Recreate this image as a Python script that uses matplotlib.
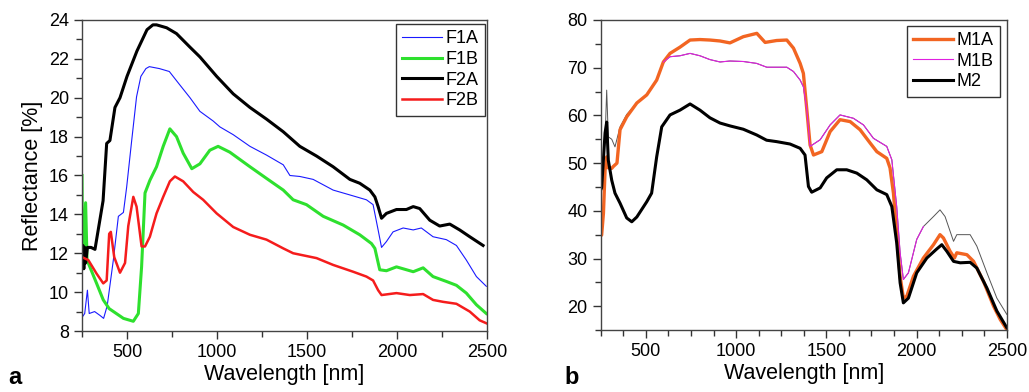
import numpy as np
import matplotlib
matplotlib.use('Agg')
import matplotlib.pyplot as plt
from matplotlib.ticker import MultipleLocator

plt.rcParams['font.family'] = ['Liberation Sans', 'DejaVu Sans']

# panel a : reflectance spectra [nm, %]
f1a_wl = [250, 265, 280, 290, 320, 350, 370, 390, 424, 452, 480, 498, 526, 553, 577, 605, 624, 680, 735, 790,
          850, 905, 979, 1016, 1090, 1183, 1275, 1368, 1405, 1460, 1534, 1645, 1738, 1830, 1867, 1895, 1914, 1941,
          1978, 2034, 2090, 2135, 2200, 2274, 2330, 2385, 2441, 2496]
f1a_r = [8.7, 8.9, 10.1, 8.9, 9.0, 8.8, 8.65, 9.3, 11.65, 13.9, 14.1, 15.4, 17.8, 20.05, 21.1, 21.5, 21.6, 21.5,
         21.35, 20.7, 20.0, 19.3, 18.8, 18.5, 18.1, 17.5, 17.05, 16.55, 16.0, 15.95, 15.8, 15.25, 15.0, 14.75, 14.5,
         13.2, 12.3, 12.6, 13.1, 13.3, 13.2, 13.3, 12.85, 12.7, 12.4, 11.65, 10.8, 10.3]

f1b_wl = [250, 252, 258, 270, 278, 331, 368, 401, 480, 535, 563, 581, 600, 627, 664, 701, 738, 775, 812, 860,
          905, 960, 1006, 1071, 1183, 1275, 1368, 1423, 1497, 1590, 1701, 1793, 1858, 1877, 1904, 1941, 1997,
          2090, 2145, 2200, 2274, 2330, 2385, 2441, 2496]
f1b_r = [16.0, 13.0, 12.0, 14.6, 11.65, 10.45, 9.6, 9.15, 8.65, 8.5, 8.9, 11.3, 15.1, 15.75, 16.45, 17.5, 18.4,
         18.0, 17.15, 16.35, 16.6, 17.3, 17.5, 17.2, 16.45, 15.85, 15.25, 14.75, 14.5, 13.9, 13.45, 12.95, 12.5,
         12.25, 11.15, 11.1, 11.3, 11.05, 11.25, 10.8, 10.55, 10.35, 9.95, 9.35, 8.9]

f2a_wl = [250, 255, 260, 265, 270, 280, 300, 322, 367, 387, 405, 433, 461, 500, 555, 611, 644, 664, 720, 775,
          850, 905, 998, 1090, 1183, 1275, 1368, 1460, 1553, 1645, 1738, 1793, 1849, 1877, 1895, 1914, 1941,
          1997, 2052, 2090, 2126, 2182, 2237, 2293, 2348, 2404, 2478]
f2a_r = [11.3, 12.4, 11.2, 12.3, 11.5, 12.3, 12.3, 12.2, 14.7, 17.65, 17.8, 19.5, 20.0, 21.1, 22.4, 23.5, 23.75,
         23.75, 23.6, 23.3, 22.6, 22.1, 21.1, 20.2, 19.5, 18.9, 18.25, 17.5, 17.0, 16.45, 15.8, 15.6, 15.25, 14.9,
         14.4, 13.8, 14.05, 14.25, 14.25, 14.4, 14.3, 13.7, 13.4, 13.5, 13.2, 12.85, 12.4]

f2b_wl = [250, 285, 331, 368, 387, 401, 410, 429, 461, 489, 507, 535, 553, 581, 600, 627, 664, 701, 738, 766,
          812, 868, 923, 998, 1090, 1183, 1275, 1368, 1423, 1553, 1645, 1756, 1830, 1867, 1895, 1914, 1997, 2071,
          2145, 2200, 2256, 2330, 2404, 2459, 2496]
f2b_r = [11.8, 11.65, 10.95, 10.45, 10.6, 13.0, 13.1, 11.8, 11.0, 11.5, 13.4, 14.9, 14.4, 12.35, 12.35, 12.85,
         14.05, 14.9, 15.7, 15.95, 15.7, 15.15, 14.75, 14.05, 13.35, 12.95, 12.7, 12.25, 12.0, 11.75, 11.4, 11.05,
         10.8, 10.6, 10.1, 9.85, 9.95, 9.85, 9.9, 9.6, 9.5, 9.4, 9.0, 8.55, 8.4]

# panel b
m1a_wl = [250, 255, 265, 274, 283, 292, 311, 320, 340, 357, 394, 450, 505, 560, 597, 634, 689, 745, 800, 855,
          911, 966, 1040, 1115, 1161, 1225, 1281, 1318, 1355, 1373, 1392, 1410, 1429, 1475, 1521, 1576, 1632,
          1687, 1743, 1780, 1835, 1853, 1872, 1890, 1909, 1927, 1946, 1983, 2038, 2094, 2130, 2149, 2186, 2210,
          2223, 2279, 2316, 2371, 2427, 2464, 2500]
m1a_r = [35.0, 34.9, 39.5, 48.5, 51.3, 49.0, 48.9, 49.3, 50.0, 57.0, 59.7, 62.6, 64.3, 67.4, 71.2, 73.0, 74.3,
         75.8, 75.9, 75.8, 75.6, 75.2, 76.5, 77.2, 75.3, 75.7, 75.8, 74.1, 70.9, 68.8, 61.2, 53.8, 51.7, 52.4, 56.6,
         59.1, 58.7, 57.0, 54.2, 52.4, 51.0, 49.0, 43.7, 35.3, 26.3, 21.7, 22.1, 26.3, 30.1, 32.9, 35.0, 34.3, 31.5,
         30.1, 31.2, 30.8, 29.4, 25.2, 20.0, 17.2, 15.1]

m1b_wl = [250, 255, 274, 283, 292, 311, 329, 357, 394, 450, 505, 560, 597, 634, 689, 745, 800, 855, 911, 966,
          1040, 1114, 1170, 1281, 1318, 1355, 1373, 1392, 1410, 1466, 1521, 1576, 1650, 1706, 1761, 1835, 1863,
          1890, 1909, 1927, 1955, 2001, 2038, 2094, 2130, 2158, 2205, 2223, 2297, 2334, 2390, 2445, 2500]
m1b_r = [44.8, 44.8, 55.0, 65.3, 55.5, 55.0, 53.4, 57.6, 60.2, 62.6, 64.3, 67.4, 71.2, 72.3, 72.5, 73.0, 72.5,
         71.7, 71.2, 71.4, 71.3, 70.9, 70.1, 70.1, 69.2, 67.4, 66.0, 61.2, 53.5, 54.9, 58.0, 60.1, 59.4, 58.0, 55.2,
         53.5, 50.7, 40.9, 31.2, 25.6, 27.0, 34.0, 36.7, 38.8, 40.2, 38.8, 33.6, 35.0, 35.0, 32.6, 27.0, 21.7, 18.3]

m2_wl = [250, 255, 274, 283, 292, 311, 329, 357, 394, 422, 450, 505, 532, 560, 588, 634, 689, 745, 800, 855,
         911, 966, 1040, 1114, 1169, 1225, 1299, 1355, 1382, 1401, 1419, 1466, 1502, 1558, 1613, 1669, 1724, 1780,
         1835, 1863, 1890, 1909, 1927, 1955, 2001, 2057, 2112, 2140, 2168, 2205, 2242, 2297, 2334, 2390, 2445, 2500]
m2_r = [44.4, 44.8, 56.3, 58.6, 50.6, 46.4, 43.7, 41.6, 38.5, 37.7, 38.7, 41.9, 43.7, 51.3, 57.6, 60.1, 61.1,
        62.4, 61.1, 59.5, 58.4, 57.8, 57.1, 55.9, 54.8, 54.5, 54.0, 53.1, 51.7, 45.1, 43.9, 44.8, 46.9, 48.6, 48.6,
        47.9, 46.5, 44.4, 43.4, 40.9, 33.3, 24.9, 20.7, 21.7, 27.0, 30.1, 32.0, 32.9, 31.5, 29.4, 29.1, 29.2, 28.0,
        23.8, 19.0, 15.5]

fig = plt.figure(figsize=(10.29, 3.92), dpi=100)
ax1 = fig.add_axes([0.0797, 0.1556, 0.3936, 0.7934])
ax2 = fig.add_axes([0.5838, 0.158, 0.3946, 0.791])

ax1.plot(f1a_wl, f1a_r, color='#1a1aff', lw=0.8, label='F1A')
ax1.plot(f1b_wl, f1b_r, color='#2ee02e', lw=2.2, label='F1B')
ax1.plot(f2a_wl, f2a_r, color='black', lw=2.2, label='F2A')
ax1.plot(f2b_wl, f2b_r, color='#f51c1c', lw=1.8, label='F2B')

# M1B: grey outside the VNIR-SWIR middle, magenta inside
wl = np.array(m1b_wl)
mid = (wl >= 597) & (wl <= 2038)
ax2.plot(m1b_wl, m1b_r, color='#555555', lw=0.7)
ax2.plot(m1a_wl, m1a_r, color='#f26522', lw=2.4, label='M1A')
ax2.plot(wl[mid], np.array(m1b_r)[mid], color='#e020e0', lw=0.8, label='M1B')
ax2.plot(m2_wl, m2_r, color='black', lw=2.2, label='M2')

ax1.set_xlim(250, 2500)
ax1.set_ylim(8, 24)
ax1.yaxis.set_major_locator(MultipleLocator(2))
ax1.yaxis.set_minor_locator(MultipleLocator(1))
ax1.xaxis.set_minor_locator(MultipleLocator(250))
ax1.set_ylabel('Reflectance [%]', fontsize=15.5)

ax2.set_xlim(250, 2500)
ax2.set_ylim(15, 80)
ax2.yaxis.set_major_locator(MultipleLocator(10))
ax2.yaxis.set_minor_locator(MultipleLocator(5))
ax2.xaxis.set_minor_locator(MultipleLocator(125))

for ax, anchor in ((ax1, (0.995, 0.987)), (ax2, (0.983, 0.981))):
    ax.xaxis.set_major_locator(MultipleLocator(500))
    ax.set_xlabel('Wavelength [nm]', fontsize=15.5, labelpad=2)
    ax.tick_params(which='major', direction='out', length=6, width=1, labelsize=13, color='#333333')
    ax.tick_params(which='minor', direction='out', length=4, width=1, color='#333333')
    for s in ax.spines.values():
        s.set_color('#444444')
        s.set_linewidth(1)
    leg = ax.legend(loc='upper right', fontsize=13, frameon=True, fancybox=False, handlelength=2.2,
                    handletextpad=0.22, labelspacing=0.2, borderpad=0.35, borderaxespad=0,
                    bbox_to_anchor=anchor)
    leg.get_frame().set_edgecolor('black')
    leg.get_frame().set_linewidth(1)

fig.text(0.008, 0.02, 'a', fontsize=17, fontweight='bold')
fig.text(0.549, 0.02, 'b', fontsize=17, fontweight='bold')

fig.savefig('out.png', dpi=100)
